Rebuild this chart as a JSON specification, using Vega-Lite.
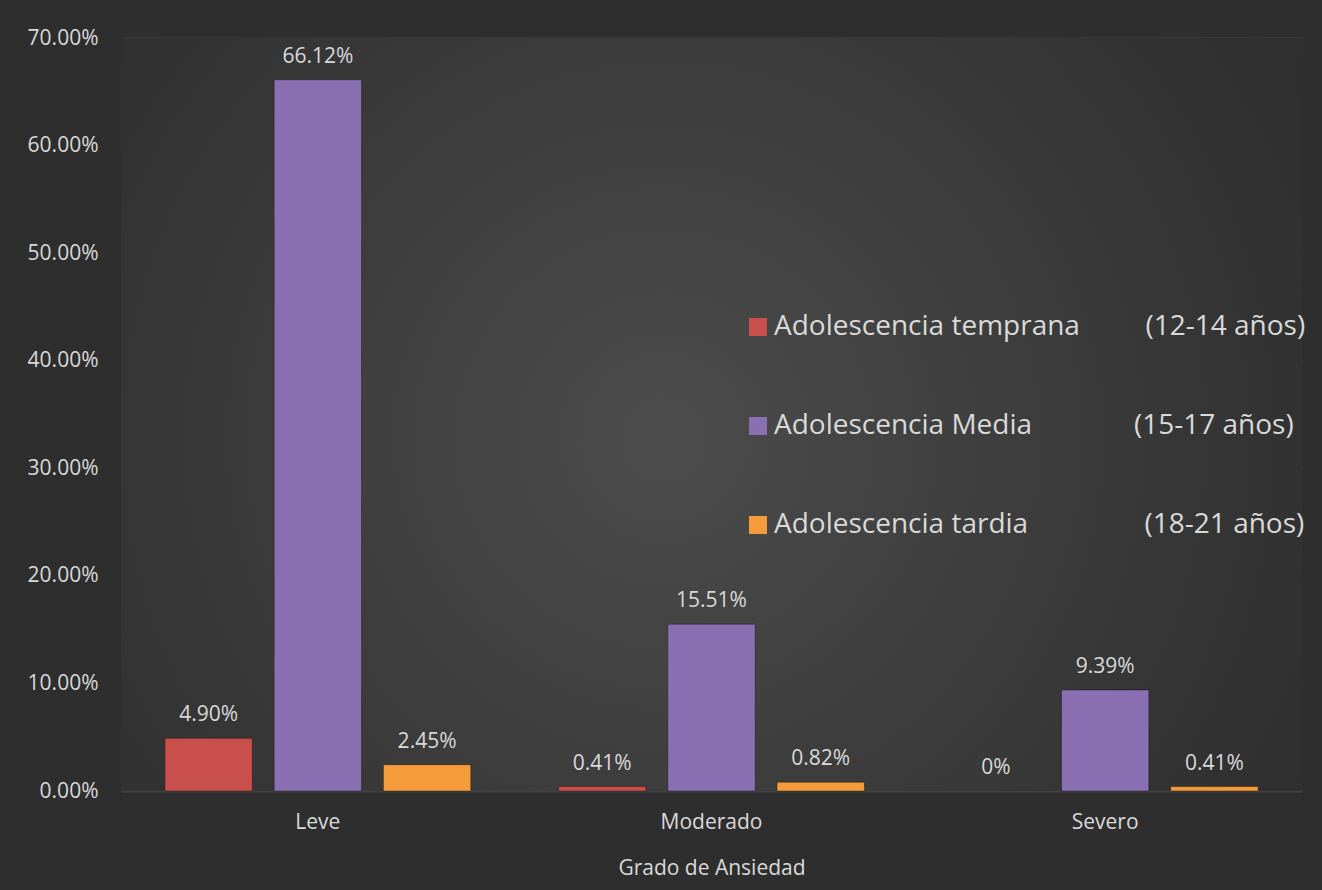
{
  "$schema": "https://vega.github.io/schema/vega-lite/v6.json",
  "width": 1181,
  "height": 753,
  "autosize": {"type": "none"},
  "padding": {"left": 121, "top": 38, "right": 20, "bottom": 99},
  "background": "#2e2e2e",
  "config": {
    "font": "Open Sans",
    "view": {"stroke": null},
    "axis": {
      "labelColor": "#d9d9d9",
      "titleColor": "#d9d9d9",
      "labelFontSize": 21,
      "titleFontSize": 21,
      "titleFontWeight": "normal",
      "labelFont": "Open Sans",
      "titleFont": "Open Sans"
    },
    "legend": {
      "orient": "none",
      "legendX": 623,
      "legendY": 275,
      "padding": 0,
      "symbolType": "square",
      "symbolSize": 324,
      "symbolStrokeWidth": 0,
      "labelFontSize": 28,
      "labelFont": "Open Sans",
      "labelColor": "#d9d9d9",
      "labelOffset": 2,
      "rowPadding": 71,
      "labelLimit": 800
    }
  },
  "layer": [
    {
      "data": {"values": [{}]},
      "mark": {
        "type": "rect",
        "color": {
          "gradient": "radial",
          "x1": 0.46, "y1": 0.52, "r1": 0,
          "x2": 0.46, "y2": 0.52, "r2": 0.74,
          "stops": [
            {"offset": 0, "color": "#4c4c4c"},
            {"offset": 0.68, "color": "#333333"},
            {"offset": 1, "color": "#2b2b2b"}
          ]
        }
      },
      "encoding": {}
    },
    {
      "data": {"name": "datos", "values": [
        {"grado": "Leve", "grupo": "Adolescencia temprana", "valor": 0.049, "label": "4.90%"},
        {"grado": "Leve", "grupo": "Adolescencia Media", "valor": 0.6612, "label": "66.12%"},
        {"grado": "Leve", "grupo": "Adolescencia tardia", "valor": 0.0245, "label": "2.45%"},
        {"grado": "Moderado", "grupo": "Adolescencia temprana", "valor": 0.0041, "label": "0.41%"},
        {"grado": "Moderado", "grupo": "Adolescencia Media", "valor": 0.1551, "label": "15.51%"},
        {"grado": "Moderado", "grupo": "Adolescencia tardia", "valor": 0.0082, "label": "0.82%"},
        {"grado": "Severo", "grupo": "Adolescencia temprana", "valor": 0, "label": "0%"},
        {"grado": "Severo", "grupo": "Adolescencia Media", "valor": 0.0939, "label": "9.39%"},
        {"grado": "Severo", "grupo": "Adolescencia tardia", "valor": 0.0041, "label": "0.41%"}
      ]},
      "encoding": {
        "x": {
          "field": "grado", "type": "nominal",
          "sort": ["Leve", "Moderado", "Severo"],
          "scale": {"paddingInner": 0.223, "paddingOuter": 0.1115},
          "axis": {
            "title": "Grado de Ansiedad",
            "labelAngle": 0,
            "ticks": false,
            "domain": false,
            "labelPadding": 20,
            "titlePadding": 25,
            "grid": false
          }
        },
        "xOffset": {
          "field": "grupo", "type": "nominal",
          "sort": ["Adolescencia temprana", "Adolescencia Media", "Adolescencia tardia"],
          "scale": {"paddingInner": 0.2, "paddingOuter": 0}
        },
        "y": {
          "field": "valor", "type": "quantitative",
          "scale": {"domain": [0, 0.7], "nice": false},
          "axis": {
            "title": null,
            "format": ".2%",
            "values": [0, 0.1, 0.2, 0.3, 0.4, 0.5, 0.6, 0.7],
            "ticks": false,
            "domain": false,
            "labelPadding": 23,
            "grid": true,
            "gridColor": "#ffffff",
            "gridOpacity": 0.1,
            "gridWidth": 2
          }
        }
      },
      "layer": [
        {
          "mark": {"type": "bar", "stroke": "#000000", "strokeWidth": 1},
          "encoding": {
            "color": {
              "field": "grupo", "type": "nominal",
              "sort": ["Adolescencia temprana", "Adolescencia Media", "Adolescencia tardia"],
              "scale": {
                "domain": ["Adolescencia temprana", "Adolescencia Media", "Adolescencia tardia"],
                "range": ["#c94f4d", "#8a6fb2", "#f49b3b"]
              },
              "legend": {
                "title": null,
                "labelExpr": "datum.label === 'Adolescencia temprana' ? 'Adolescencia temprana\u00a0\u00a0\u00a0\u00a0\u00a0\u00a0\u00a0\u00a0\u00a0(12-14 años)' : datum.label === 'Adolescencia Media' ? 'Adolescencia Media\u00a0\u00a0\u00a0\u00a0\u00a0\u00a0\u00a0\u00a0\u00a0\u00a0\u00a0\u00a0\u00a0\u00a0(15-17 años)' : 'Adolescencia tardia\u00a0\u00a0\u00a0\u00a0\u00a0\u00a0\u00a0\u00a0\u00a0\u00a0\u00a0\u00a0\u00a0\u00a0\u00a0\u00a0(18-21 años)'"
              }
            },
            "strokeOpacity": {
              "condition": {"test": "datum.valor > 0", "value": 0.35},
              "value": 0
            }
          }
        },
        {
          "mark": {"type": "text", "dy": -17, "baseline": "alphabetic", "fontSize": 21, "color": "#d9d9d9", "font": "Open Sans"},
          "encoding": {
            "text": {"field": "label", "type": "nominal"}
          }
        }
      ]
    }
  ]
}
